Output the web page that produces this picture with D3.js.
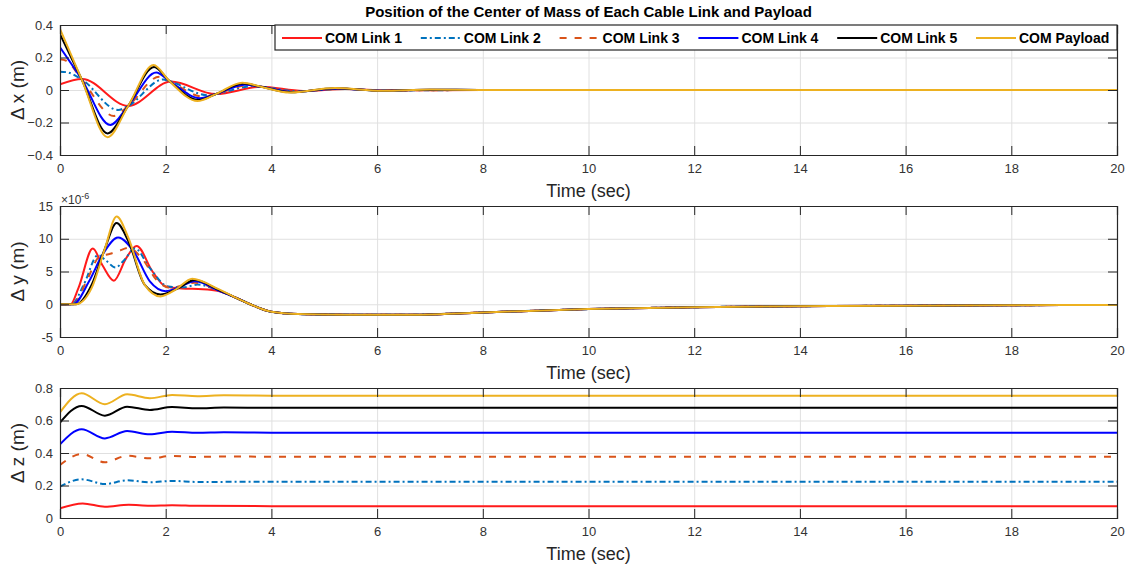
<!DOCTYPE html>
<html>
<head>
<meta charset="utf-8">
<script src="https://d3js.org/d3.v7.min.js"></script>
<style>
  body { margin: 0; background: #fff; }
  svg text { font-family: "Liberation Sans", Arial, sans-serif; }
</style>
</head>
<body>
<div id="chart"></div>
<script>

// legend / series names
const names = ["COM Link 1", "COM Link 2", "COM Link 3", "COM Link 4", "COM Link 5", "COM Payload"];
const colors = ["#ff1a1a", "#0072bd", "#d95319", "#0000ff", "#000000", "#edb120"];
const dashes = [null, "6,3,2,3", "7,8", null, null, null];

const xTicks = [0, 2, 4, 6, 8, 10, 12, 14, 16, 18, 20];
const dxTicks = [-0.4, -0.2, 0, 0.2, 0.4];
const dyTicks = [-5, 0, 5, 10, 15];      // x 10^-6
const dzTicks = [0, 0.2, 0.4, 0.6, 0.8];

// delta x  [time, value]
const dxLink1 = [[0,0.035],[0.42,0.068],[1.29,-0.098],[2.1,0.052],[2.95,-0.025],[3.8,0.02],[4.6,-0.006],[5.4,0.006],[6.2,-0.002],[8,0],[20,0]];
const dxLink2 = [[0,0.113],[0.15,0.108],[0.41,0.066],[1.1,-0.123],[1.29,-0.098],[1.95,0.065],[2.07,0.055],[2.8,-0.032],[2.95,-0.025],[3.65,0.024],[3.8,0.02],[4.5,-0.008],[5.35,0.007],[6.1,-0.003],[8,0],[20,0]];
const dxLink3 = [[0,0.189],[0.12,0.18],[0.41,0.066],[1.02,-0.16],[1.29,-0.098],[1.88,0.082],[2.07,0.055],[2.7,-0.04],[2.95,-0.025],[3.55,0.028],[3.8,0.02],[4.45,-0.01],[5.3,0.008],[6.1,-0.003],[8,0],[20,0]];
const dxLink4 = [[0,0.263],[0.41,0.066],[0.95,-0.215],[1.29,-0.098],[1.82,0.107],[2.07,0.055],[2.65,-0.05],[2.95,-0.025],[3.5,0.033],[3.8,0.02],[4.4,-0.012],[5.25,0.01],[6.1,-0.004],[7,0.002],[8,0],[20,0]];
const dxLink5 = [[0,0.343],[0.41,0.066],[0.9,-0.267],[1.29,-0.098],[1.78,0.142],[2.07,0.055],[2.62,-0.062],[2.95,-0.025],[3.47,0.04],[3.8,0.02],[4.37,-0.014],[5.2,0.011],[6.1,-0.004],[7,0.002],[8,0],[20,0]];
const dxPayload = [[0,0.375],[0.41,0.066],[0.9,-0.29],[1.29,-0.098],[1.77,0.154],[2.07,0.055],[2.6,-0.068],[2.95,-0.025],[3.45,0.045],[3.8,0.02],[4.35,-0.016],[5.2,0.012],[6.1,-0.005],[7,0.003],[8,0],[20,0]];

// delta y (x 10^-6)
const dyLink1 = [[0,0],[0.2,0],[0.35,2.5],[0.62,8.5],[0.8,6],[1.02,3.6],[1.25,7],[1.45,8.9],[1.75,5],[2.0,2.7],[2.3,2.4],[2.7,2.3],[3.0,2.0],[3.3,1.1],[3.6,0],[4.0,-1.15],[4.5,-1.5],[5.5,-1.6],[6.5,-1.62],[8,-1.25],[10,-0.74],[12,-0.45],[14,-0.3],[16,-0.22],[18,-0.15],[20,-0.1]];
const dyLink2 = [[0,0],[0.22,0],[0.45,3],[0.72,7.5],[0.88,6.6],[1.05,5.6],[1.2,6.6],[1.42,8.5],[1.7,5.5],[2.05,2.7],[2.35,2.6],[2.6,3.0],[3.0,2.1],[3.3,1.1],[3.6,0],[4.0,-1.15],[4.5,-1.5],[5.5,-1.6],[6.5,-1.62],[8,-1.25],[10,-0.74],[12,-0.45],[14,-0.3],[16,-0.22],[18,-0.15],[20,-0.1]];
const dyLink3 = [[0,0],[0.25,0],[0.5,3.5],[0.75,7.3],[0.95,7.7],[1.1,8.1],[1.3,8.6],[1.55,7],[1.85,3.5],[2.1,2.5],[2.55,3.3],[3.0,2.1],[3.3,1.1],[3.6,0],[4.0,-1.15],[4.5,-1.5],[5.5,-1.6],[6.5,-1.62],[8,-1.25],[10,-0.74],[12,-0.45],[14,-0.3],[16,-0.22],[18,-0.15],[20,-0.1]];
const dyLink4 = [[0,0],[0.25,0],[0.55,3.5],[0.8,7.5],[1.1,10.2],[1.4,8],[1.7,3.5],[2.0,2.0],[2.2,2.4],[2.55,3.5],[3.0,2.1],[3.3,1.1],[3.6,0],[4.0,-1.15],[4.5,-1.5],[5.5,-1.6],[6.5,-1.62],[8,-1.25],[10,-0.74],[12,-0.45],[14,-0.3],[16,-0.22],[18,-0.15],[20,-0.1]];
const dyLink5 = [[0,0],[0.3,0],[0.6,3],[0.85,8.5],[1.07,12.4],[1.3,9.5],[1.6,3],[1.9,1.5],[2.2,2.3],[2.55,3.7],[3.0,2.2],[3.3,1.1],[3.6,0],[4.0,-1.15],[4.5,-1.5],[5.5,-1.6],[6.5,-1.62],[8,-1.25],[10,-0.74],[12,-0.45],[14,-0.3],[16,-0.22],[18,-0.15],[20,-0.1]];
const dyPayload = [[0,0],[0.3,0],[0.6,2.5],[0.85,8.5],[1.07,13.4],[1.3,10],[1.6,3],[1.9,1.2],[2.2,2.3],[2.5,3.9],[3.0,2.3],[3.3,1.1],[3.6,0],[4.0,-1.15],[4.5,-1.5],[5.5,-1.6],[6.5,-1.62],[8,-1.25],[10,-0.74],[12,-0.45],[14,-0.3],[16,-0.22],[18,-0.15],[20,-0.1]];

// delta z
const dzLink1 = [[0,0.06],[0.43,0.09],[0.85,0.07],[1.3,0.082],[1.7,0.076],[2.12,0.079],[2.6,0.075],[4,0.073],[20,0.072]];
const dzLink2 = [[0,0.193],[0.41,0.238],[0.85,0.209],[1.27,0.232],[1.7,0.22],[2.12,0.228],[2.6,0.222],[4,0.223],[20,0.223]];
const dzLink3 = [[0,0.326],[0.41,0.394],[0.85,0.343],[1.27,0.383],[1.7,0.367],[2.12,0.382],[2.6,0.376],[3.1,0.379],[4,0.377],[20,0.377]];
const dzLink4 = [[0,0.453],[0.41,0.546],[0.85,0.49],[1.27,0.535],[1.7,0.515],[2.12,0.531],[2.6,0.524],[3.1,0.527],[4,0.525],[20,0.525]];
const dzLink5 = [[0,0.587],[0.41,0.69],[0.85,0.63],[1.27,0.685],[1.7,0.665],[2.12,0.683],[2.6,0.675],[3.1,0.68],[4,0.678],[20,0.678]];
const dzPayload = [[0,0.65],[0.41,0.767],[0.85,0.70],[1.27,0.761],[1.7,0.737],[2.12,0.757],[2.6,0.75],[3.1,0.755],[4,0.753],[20,0.753]];

const W = 1131, H = 573;
const left = 60, right = 1117;
const axisCol = "#262626";

const panels = [
  { top: 25,  bottom: 155, domain: [-0.4, 0.4], ticks: dxTicks, label: "\u0394 x (m)", fmt: d => d === 0 ? "0" : d3.format(".1f")(d),
    series: [dxLink1, dxLink2, dxLink3, dxLink4, dxLink5, dxPayload] },
  { top: 206, bottom: 337, domain: [-5, 15], ticks: dyTicks, label: "\u0394 y (m)", fmt: d => d,
    series: [dyLink1, dyLink2, dyLink3, dyLink4, dyLink5, dyPayload] },
  { top: 388, bottom: 518, domain: [0, 0.8], ticks: dzTicks, label: "\u0394 z (m)", fmt: d => d === 0 ? "0" : d3.format(".1f")(d),
    series: [dzLink1, dzLink2, dzLink3, dzLink4, dzLink5, dzPayload] }
];

const svg = d3.select("#chart").append("svg")
  .attr("width", W)
  .attr("height", H);

const x = d3.scaleLinear().domain([0, 20]).range([left, right]);

panels.forEach((p, i) => {
  const y = d3.scaleLinear().domain(p.domain).range([p.bottom, p.top]);
  const h = p.bottom - p.top;
  const g = svg.append("g");

  // grid
  g.append("g")
    .attr("transform", "translate(0," + p.bottom + ")")
    .call(d3.axisBottom(x).tickValues(xTicks).tickSize(-h).tickFormat(""))
    .call(a => a.select(".domain").remove())
    .call(a => a.selectAll("line").attr("stroke", "#e0e0e0"));
  g.append("g")
    .attr("transform", "translate(" + left + ",0)")
    .call(d3.axisLeft(y).tickValues(p.ticks).tickSize(-(right - left)).tickFormat(""))
    .call(a => a.select(".domain").remove())
    .call(a => a.selectAll("line").attr("stroke", "#e0e0e0"));

  // curves
  svg.append("clipPath").attr("id", "clip" + i)
    .append("rect").attr("x", left).attr("y", p.top).attr("width", right - left).attr("height", h);

  const line = d3.line()
    .x(d => x(d[0]))
    .y(d => y(d[1]))
    .curve(d3.curveMonotoneX);

  p.series.forEach((s, k) => {
    g.append("path")
      .attr("clip-path", "url(#clip" + i + ")")
      .attr("d", line(s))
      .attr("fill", "none")
      .attr("stroke", colors[k])
      .attr("stroke-width", 2)
      .attr("stroke-dasharray", dashes[k]);
  });

  // axes, ticks pointing inward
  const bx = g.append("g")
    .attr("transform", "translate(0," + p.bottom + ")")
    .call(d3.axisBottom(x).tickValues(xTicks).tickSize(-9).tickPadding(9));
  const tx = g.append("g")
    .attr("transform", "translate(0," + p.top + ")")
    .call(d3.axisTop(x).tickValues(xTicks).tickSize(-9).tickFormat(""));
  const ly = g.append("g")
    .attr("transform", "translate(" + left + ",0)")
    .call(d3.axisLeft(y).tickValues(p.ticks).tickSize(-9).tickPadding(7).tickFormat(p.fmt));
  const ry = g.append("g")
    .attr("transform", "translate(" + right + ",0)")
    .call(d3.axisRight(y).tickValues(p.ticks).tickSize(-9).tickFormat(""));

  [bx, tx, ly, ry].forEach(a => {
    a.select(".domain").attr("stroke", axisCol).attr("stroke-width", 1.2);
    a.selectAll("line").attr("stroke", axisCol);
    a.selectAll("text").attr("fill", "#333").style("font-size", "13px");
  });

  // x label
  g.append("text")
    .attr("x", (left + right) / 2)
    .attr("y", p.bottom + 42)
    .attr("text-anchor", "middle")
    .attr("fill", "#262626")
    .style("font-size", "18px")
    .text("Time (sec)");

  // y label
  g.append("text")
    .attr("transform", "translate(24," + (p.top + h / 2) + ") rotate(-90)")
    .attr("text-anchor", "middle")
    .attr("fill", "#262626")
    .style("font-size", "19px")
    .text(p.label);
});

// exponent label for the y panel
const ex = svg.append("text")
  .attr("x", 61)
  .attr("y", 204)
  .attr("fill", "#333")
  .style("font-size", "12px");
ex.append("tspan").text("\u00d710");
ex.append("tspan").attr("dy", -5).style("font-size", "9px").text("-6");

// title
svg.append("text")
  .attr("x", (left + right) / 2)
  .attr("y", 17)
  .attr("text-anchor", "middle")
  .style("font-size", "15px")
  .style("font-weight", "bold")
  .text("Position of the Center of Mass of Each Cable Link and Payload");

// legend
const lg = svg.append("g");
lg.append("rect")
  .attr("x", 275).attr("y", 25)
  .attr("width", right - 275).attr("height", 25)
  .attr("fill", "#fff")
  .attr("stroke", axisCol)
  .attr("stroke-width", 1.2);

names.forEach((n, k) => {
  const lx = 282 + k * 138.8;
  lg.append("line")
    .attr("x1", lx).attr("x2", lx + 40)
    .attr("y1", 38).attr("y2", 38)
    .attr("stroke", colors[k])
    .attr("stroke-width", 2)
    .attr("stroke-dasharray", dashes[k]);
  lg.append("text")
    .attr("x", lx + 43)
    .attr("y", 43)
    .style("font-size", "14px")
    .style("font-weight", "bold")
    .text(n);
});

</script>
</body>
</html>
